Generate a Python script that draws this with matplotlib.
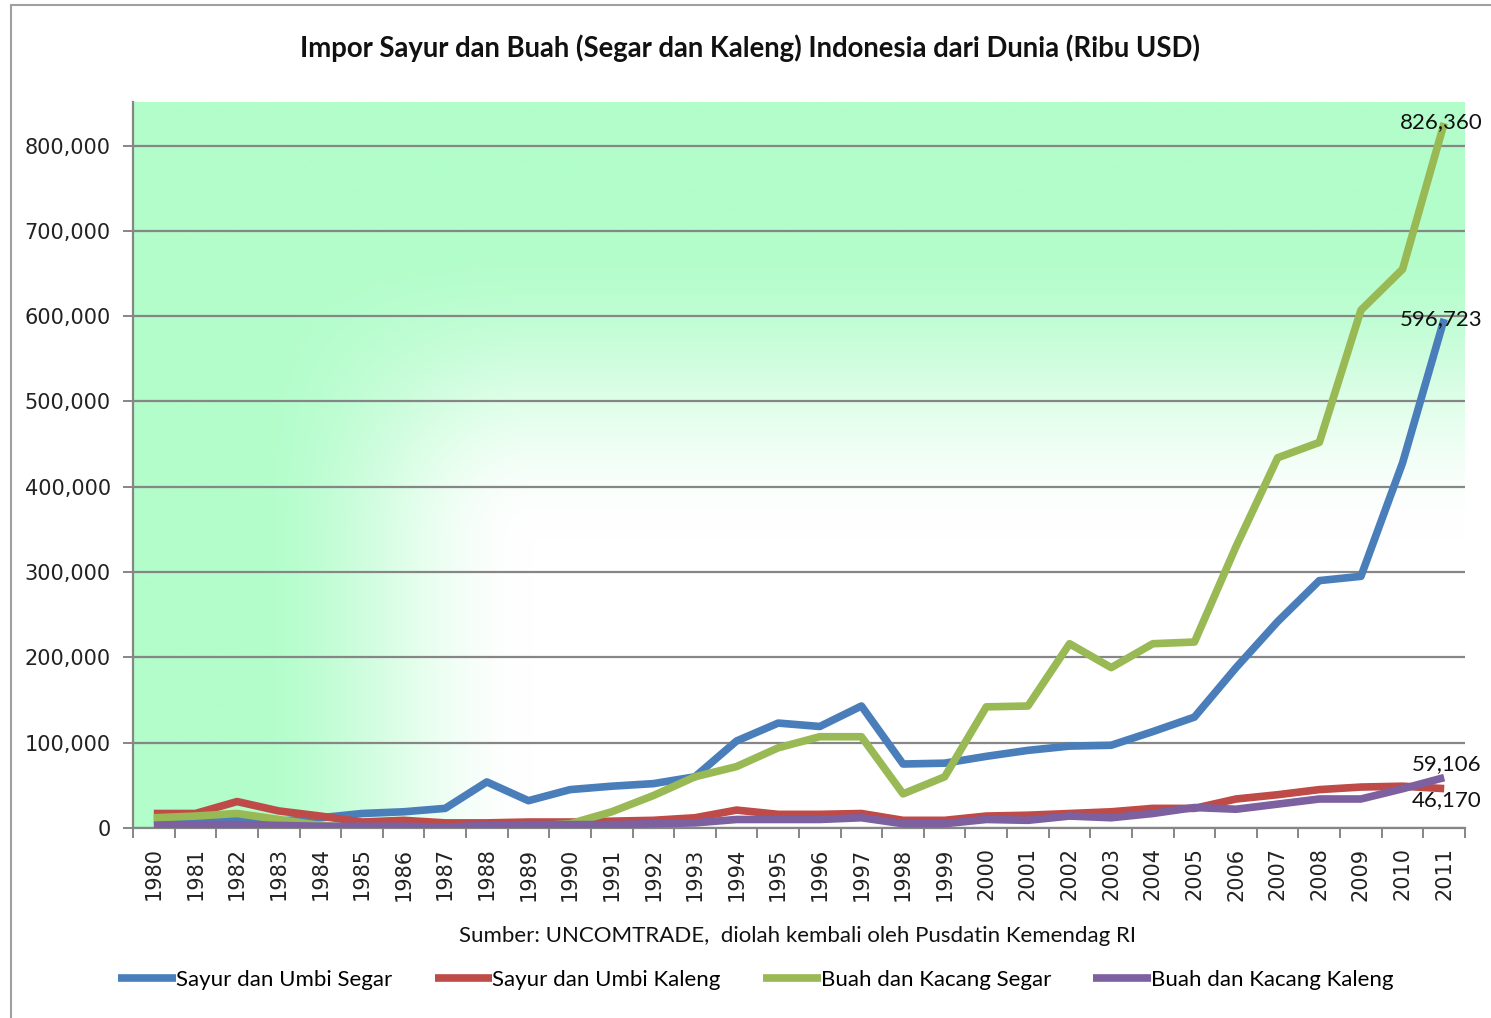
import numpy as np
import matplotlib
matplotlib.use("Agg")
import matplotlib.pyplot as plt
from matplotlib.ticker import FuncFormatter, FixedLocator
from matplotlib.patches import Rectangle
from matplotlib.colors import to_rgb

# ---------------------------------------------------------------------------
# Data (Ribu USD)
# ---------------------------------------------------------------------------
years = list(range(1980, 2012))

sayur_segar = [8000, 10000, 10000, 8000, 12000, 17000, 19000, 23000, 54000, 32000,
               45000, 49000, 52000, 60000, 102000, 123000, 119000, 143000, 75000, 76000,
               84000, 91000, 96000, 97000, 113000, 130000, 188000, 242000, 290000, 295000,
               428000, 596723]
sayur_kaleng = [17000, 17000, 31000, 20000, 14000, 7000, 9000, 6000, 6000, 7000,
                7000, 8000, 9000, 12000, 21000, 16000, 16000, 17000, 9000, 9000,
                14000, 15000, 17000, 19000, 23000, 23000, 34000, 39000, 45000, 48000,
                49000, 46170]
buah_segar = [12000, 14000, 17000, 10000, 3000, 0, 0, 0, 1000, 2000,
              5000, 19000, 38000, 60000, 72000, 94000, 107000, 107000, 40000, 60000,
              142000, 143000, 216000, 188000, 216000, 218000, 330000, 434000, 452000, 607000,
              655000, 826360]
buah_kaleng = [3000, 4000, 4000, 3000, 2000, 2000, 2000, 1000, 3000, 4000,
               4000, 4000, 5000, 6000, 10000, 10000, 10000, 12000, 5000, 5000,
               10000, 9000, 14000, 12000, 17000, 24000, 22000, 28000, 34000, 34000,
               46000, 59106]

series_names = ["Sayur dan Umbi Segar", "Sayur dan Umbi Kaleng",
                "Buah dan Kacang Segar", "Buah dan Kacang Kaleng"]
series_values = [sayur_segar, sayur_kaleng, buah_segar, buah_kaleng]
series_colors = ["#4a7ebb", "#be4b48", "#98b954", "#7d60a0"]

title = "Impor Sayur dan Buah (Segar dan Kaleng) Indonesia dari Dunia (Ribu USD)"
source = "Sumber: UNCOMTRADE,  diolah kembali oleh Pusdatin Kemendag RI"

narrow = ["Lato", "DejaVu Sans"]

# ---------------------------------------------------------------------------
# Figure
# ---------------------------------------------------------------------------
fig = plt.figure(figsize=(14.91, 10.18), dpi=100)
fig.patch.set_facecolor("white")

# chart-area border (left/top edges visible in the reference)
fig.add_artist(Rectangle((11 / 1491, -0.01), 1.5, 1 - 5 / 1018 + 0.01,
                         transform=fig.transFigure, fill=False,
                         edgecolor="#a0a0a0", linewidth=1.5))

ax = fig.add_axes([133 / 1491, 1 - 828 / 1018, (1465 - 133) / 1491, (828 - 102) / 1018])

x = np.arange(len(years))
ymax = 851000
ax.set_xlim(-0.5, len(years) - 0.5)
ax.set_ylim(0, ymax)

# plot-area gradient: green at top and left, white toward the lower right
ny, nx = 300, 500
u = np.linspace(1, 0, nx)[None, :]      # 1 at left edge
v = np.linspace(1, 0, ny)[:, None]      # 1 at top edge


def smooth(a, lo, hi):
    s = np.clip((a - lo) / (hi - lo), 0, 1)
    return s * s * (3 - 2 * s)


tu = smooth(u, 0.70, 0.92)
tv = smooth(v, 0.40, 0.82)
t = 1 - (1 - tu) * (1 - tv)
green = np.array(to_rgb("#b2fdca"))
img = np.ones((ny, nx, 3)) * (1 - t[..., None]) + green * t[..., None]
ax.imshow(img, extent=(-0.5, len(years) - 0.5, 0, ymax), aspect="auto",
          origin="upper", zorder=0, interpolation="bilinear")

ax.yaxis.set_major_locator(FixedLocator(np.arange(0, 800001, 100000)))
ax.grid(axis="y", color="#868686", linewidth=1.6, zorder=1)
ax.set_axisbelow(False)

for name, vals, col in zip(series_names, series_values, series_colors):
    ax.plot(x, vals, color=col, linewidth=5.5, label=name, zorder=3,
            solid_joinstyle="round", solid_capstyle="butt")

# end-of-line data labels
lab_style = dict(fontsize=16, family=narrow, color="#111111", zorder=5)
ax.annotate(f"{buah_segar[-1]:,}", (x[-1], buah_segar[-1]), xytext=(-2, 1),
            textcoords="offset points", ha="center", va="center", **lab_style)
ax.annotate(f"{sayur_segar[-1]:,}", (x[-1], sayur_segar[-1]), xytext=(-2, 0),
            textcoords="offset points", ha="center", va="center", **lab_style)
ax.annotate(f"{buah_kaleng[-1]:,}", (x[-1], buah_kaleng[-1]), xytext=(2, 10),
            textcoords="offset points", ha="center", va="center", **lab_style)
ax.annotate(f"{sayur_kaleng[-1]:,}", (x[-1], sayur_kaleng[-1]), xytext=(2, -8),
            textcoords="offset points", ha="center", va="center", **lab_style)

# axes styling
for side in ["top", "right"]:
    ax.spines[side].set_visible(False)
for side in ["left", "bottom"]:
    ax.spines[side].set_color("#868686")
    ax.spines[side].set_linewidth(1.6)

ax.yaxis.set_major_formatter(FuncFormatter(lambda val, pos: f"{int(val):,}"))
ax.tick_params(axis="y", length=7, width=1.4, color="#868686", pad=9,
               labelsize=15, labelcolor="#222222")

ax.set_xticks(x)
ax.set_xticklabels([str(yr) for yr in years], rotation=90)
ax.set_xticks(np.arange(-0.5, len(years), 1), minor=True)
ax.tick_params(axis="x", which="major", length=0, pad=14, labelsize=15,
               labelcolor="#222222")
ax.tick_params(axis="x", which="minor", length=7, width=1.4, color="#868686")

fig.text(0.503, 1 - 48 / 1018, title, ha="center", va="center", fontsize=19.8,
         fontweight="bold", family=narrow, color="#111111")
fig.text(0.535, 1 - 936 / 1018, source, ha="center", va="center", fontsize=16,
         family=narrow, color="#111111")

fig.legend(loc="center", bbox_to_anchor=(0.507, 1 - 980 / 1018), ncol=4,
           frameon=False, handlelength=2.6, handletextpad=0.0, columnspacing=1.9,
           prop={"family": narrow, "size": 16})

fig.savefig("out.png", dpi=100, facecolor="white")
